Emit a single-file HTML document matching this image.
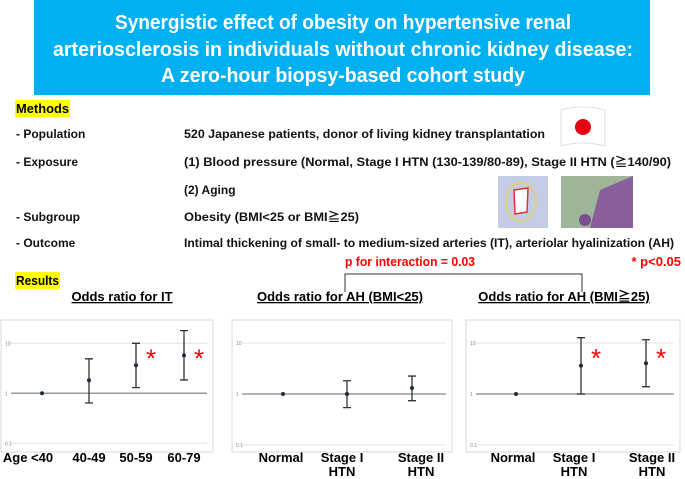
<!DOCTYPE html>
<html><head><meta charset="utf-8"><style>
body{margin:0;background:#fff}
svg{display:block;font-family:"Liberation Sans","Noto Sans CJK JP",sans-serif}
</style></head><body>
<svg id="s" width="685" height="479" viewBox="0 0 685 479">
<rect x="34" y="0" width="616" height="95" fill="#00b0f0"/>
<g fill="#fff" font-weight="bold" font-size="20" text-anchor="middle">
<text x="343" y="29" textLength="456" lengthAdjust="spacingAndGlyphs">Synergistic effect of obesity on hypertensive renal</text>
<text x="343" y="56" textLength="580" lengthAdjust="spacingAndGlyphs">arteriosclerosis in individuals without chronic kidney disease:</text>
<text x="343" y="82" textLength="364" lengthAdjust="spacingAndGlyphs">A zero-hour biopsy-based cohort study</text>
</g>
<rect x="15" y="100" width="55" height="17" fill="#ffff00"/>
<text x="16" y="113" font-size="13" font-weight="bold" textLength="53" lengthAdjust="spacingAndGlyphs">Methods</text>
<g font-size="12" font-weight="bold" fill="#111">
<text x="16" y="138">- Population</text>
<text x="16" y="166">- Exposure</text>
<text x="16" y="221">- Subgroup</text>
<text x="16" y="247">- Outcome</text>
<text x="184" y="138" textLength="361" lengthAdjust="spacingAndGlyphs">520 Japanese patients, donor of living kidney transplantation</text>
<text x="184" y="166" textLength="487" lengthAdjust="spacingAndGlyphs">(1) Blood pressure (Normal, Stage I HTN (130-139/80-89), Stage II HTN (≧140/90)</text>
<text x="184" y="194">(2) Aging</text>
<text x="184" y="221" textLength="175" lengthAdjust="spacingAndGlyphs">Obesity (BMI&lt;25 or BMI≧25)</text>
<text x="184" y="247" textLength="490" lengthAdjust="spacingAndGlyphs">Intimal thickening of small- to medium-sized arteries (IT), arteriolar hyalinization (AH)</text>
</g>
<g>
<path d="M561 110 Q583 104 605 110 L605 146 Q583 140 561 146 Z" fill="#fff" stroke="#ddd"/>
<circle cx="583" cy="127" r="8" fill="#e60012"/>
</g>
<g>
<rect x="498" y="176" width="50" height="52" fill="#c5cde6"/>
<ellipse cx="521" cy="202" rx="15" ry="19" fill="none" stroke="#d8d27a" stroke-width="2"/>
<path d="M514 190 L528 188 L527 212 L515 214 Z" fill="#fff" stroke="#e03030" stroke-width="1.5"/>
</g>
<g>
<rect x="561" y="176" width="72" height="52" fill="#9fb59a"/>
<path d="M590 228 L600 190 L633 176 L633 228 Z" fill="#8a5e9a"/>
<circle cx="585" cy="220" r="6" fill="#7a4f8e"/>
</g>
<rect x="15" y="272" width="45" height="17" fill="#ffff00"/>
<text x="16" y="285" font-size="13" font-weight="bold" textLength="43" lengthAdjust="spacingAndGlyphs">Results</text>
<text x="345" y="266" font-size="13" font-weight="bold" fill="#f00" textLength="130" lengthAdjust="spacingAndGlyphs">p for interaction = 0.03</text>
<text x="681" y="266" font-size="13" font-weight="bold" fill="#f00" text-anchor="end">* p&lt;0.05</text>
<path d="M345 292 L345 274 L582 274 L582 292" fill="none" stroke="#333" stroke-width="1"/>
<g id="charts"></g>
</svg>
<script>
// Chart 1: Odds ratio for IT
const itCategories = ["<40", "40-49", "50-59", "60-79"];
const itOR = [1, 1.82, 3.63, 5.75];
const itLow = [null, 0.64, 1.3, 1.85];
const itHigh = [null, 4.9, 10, 17.9];
const itSig = [false, false, true, true];
// Chart 2: AH BMI<25
const ahLowCategories = ["Normal", "Stage I", "Stage II"];
const ahLowOR = [1, 1.0, 1.31];
const ahLowLow = [null, 0.54, 0.74];
const ahLowHigh = [null, 1.82, 2.25];
const ahLowSig = [false, false, false];
// Chart 3: AH BMI>=25
const ahHighCategories = ["Normal", "Stage I", "Stage II"];
const ahHighOR = [1, 3.6, 4.0];
const ahHighLow = [null, 1.0, 1.39];
const ahHighHigh = [null, 12.7, 11.6];
const ahHighSig = [false, true, true];
const yTicks = [10, 1, 0.1];
const yTickLabels = ["10", "1", "0.1"];

const NS = "http://www.w3.org/2000/svg";
const root = document.getElementById("charts");
function el(tag, attrs, parent, text) {
  const e = document.createElementNS(NS, tag);
  for (const k in attrs) e.setAttribute(k, attrs[k]);
  if (text !== undefined) e.textContent = text;
  parent.appendChild(e);
  return e;
}
function drawChart(cfg) {
  const g = el("g", {}, root);
  
  
  const t = el("text", {x: cfg.titleX, y: 301, "font-size": 13, "font-weight": "bold", "text-anchor": "middle", "text-decoration": "underline"}, g, cfg.title);
  
  
  const p = el("rect", {x: cfg.x0, y: 320, width: cfg.x1 - cfg.x0, height: 132, fill: "#fff", stroke: "#d9d9d9"}, g);
  
  
  const yTop = cfg.y10, dec = cfg.dec;
  const yScale = v => yTop + (1 - Math.log10(v)) * dec;
  yTicks.forEach((v, i) => {
    const y = yScale(v);
    const gl = el("line", {x1: cfg.x0 + 10, x2: cfg.x1 - 6, y1: y, y2: y, stroke: v === 1 ? "#999" : "#e0e0e0", "stroke-width": v === 1 ? 1.5 : 1}, g);
    
    
    const tl = el("text", {x: cfg.x0 + 4, y: y + 2, "font-size": 5, fill: "#888"}, g, yTickLabels[i]);
    
    
  });
  cfg.cats.forEach((c, i) => {
    const x = cfg.xs[i];
    if (cfg.low[i] !== null) {
      const yl = yScale(cfg.low[i]), yh = yScale(cfg.high[i]);
      const eb = el("path", {d: `M${x},${yh}V${yl}M${x-4},${yh}H${x+4}M${x-4},${yl}H${x+4}`, stroke: "#333", "stroke-width": 1.3, fill: "none"}, g);
      
      
    }
    const pt = el("circle", {cx: x, cy: yScale(cfg.or[i]), r: 2, fill: "#1a2a40"}, g);
    
    
    if (cfg.sig[i]) {
      const s = el("text", {x: x + 15, y: yScale(10) + 24, "font-size": 26, fill: "#f00", "text-anchor": "middle"}, g, "*");
      
      
    }
    const lines = cfg.labels[i];
    lines.forEach((ln, j) => {
      const lt = el("text", {x: cfg.lx[i], y: 462 + j * 14, "font-size": 13, "font-weight": "bold", "text-anchor": "middle"}, g, ln);
      
      
    });
  });
}
drawChart({name: "chart-it", title: "Odds ratio for IT", titleX: 122, x0: 1, x1: 213, y10: 343.3, dec: 50,
  cats: itCategories, or: itOR, low: itLow, high: itHigh, sig: itSig, xs: [42, 89, 136, 184],
  labels: [["Age  " + itCategories[0]], [itCategories[1]], [itCategories[2]], [itCategories[3]]], lx: [28, 89, 136, 184]});
drawChart({name: "chart-ah-bmi-under-25", title: "Odds ratio for AH (BMI<25)", titleX: 340, x0: 232, x1: 452, y10: 343, dec: 51,
  cats: ahLowCategories, or: ahLowOR, low: ahLowLow, high: ahLowHigh, sig: ahLowSig, xs: [283, 347, 412],
  labels: [["Normal"], ["Stage I", "HTN"], ["Stage II", "HTN"]], lx: [281, 342, 421]});
drawChart({name: "chart-ah-bmi-over-25", title: "Odds ratio for AH (BMI≧25)", titleX: 564, x0: 466, x1: 680, y10: 343, dec: 51,
  cats: ahHighCategories, or: ahHighOR, low: ahHighLow, high: ahHighHigh, sig: ahHighSig, xs: [516, 581, 646],
  labels: [["Normal"], ["Stage I", "HTN"], ["Stage II", "HTN"]], lx: [513, 574, 652]});
</script>
</body></html>
